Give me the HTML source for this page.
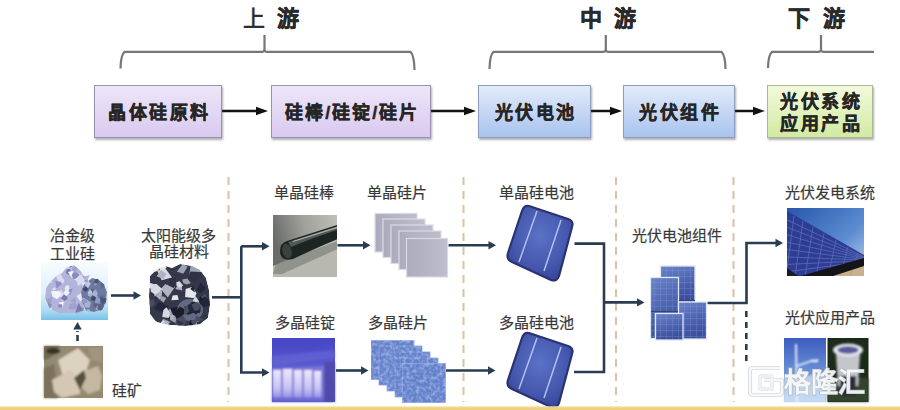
<!DOCTYPE html>
<html lang="zh-CN">
<head>
<meta charset="utf-8">
<style>
html,body{margin:0;padding:0;background:#fff;}
body{width:900px;height:410px;position:relative;overflow:hidden;font-family:"Liberation Sans",sans-serif;color:#222;}
.t{position:absolute;white-space:nowrap;line-height:1;}
.h{font-size:22px;font-weight:bold;color:#2a2a2a;-webkit-text-stroke:0.5px #2a2a2a;}
.box{position:absolute;box-sizing:border-box;border:1px solid #9a92ac;box-shadow:1px 2px 2px rgba(80,80,90,0.45);
  font-size:18px;font-weight:bold;color:#262626;-webkit-text-stroke:0.45px #262626;display:flex;align-items:center;justify-content:center;letter-spacing:2.5px;padding:0 0 2px 2.5px;}
.pur{background:linear-gradient(#ede6f8,#d9c9f0);}
.blu{background:linear-gradient(#e2ebfa,#a9c3ee);border-color:#8c9cbc;}
.grn{background:linear-gradient(#f2fadc,#d2eaa2);border-color:#aab894;line-height:22px;text-align:center;}
.s{font-size:15px;color:#383838;font-weight:normal;-webkit-text-stroke:0.2px #383838;}
svg{position:absolute;left:0;top:0;}
</style>
</head>
<body>
<!-- headings -->
<div class="t h" style="left:243px;top:8px;font-weight:normal;-webkit-text-stroke:0.6px #2a2a2a;">上</div>
<div class="t h" style="left:277px;top:8px;">游</div>
<div class="t h" style="left:580px;top:8px;">中</div>
<div class="t h" style="left:614px;top:8px;">游</div>
<div class="t h" style="left:788px;top:8px;">下</div>
<div class="t h" style="left:823px;top:8px;">游</div>

<svg width="900" height="410" viewBox="0 0 900 410">
  <g fill="none" stroke="#767676" stroke-width="2.2">
    <path d="M120.5 68.5 Q120.8 54.8 124.5 51.8 H262.5 Q264.5 51.8 264.5 48.8 V35 V48.8 Q264.5 51.8 266.5 51.8 H410.5 Q414.2 54.8 414.5 70"/>
    <path d="M489.5 69 Q489.8 54.8 493.5 51.8 H603.8 Q605.8 51.8 605.8 48.8 V35 V48.8 Q605.8 51.8 607.8 51.8 H721.5 Q725.2 54.8 725.5 69"/>
    <path d="M768 68 Q768.3 54.8 772 51.8 H819 Q821 51.8 821 48.8 V35 V48.8 Q821 51.8 823 51.8 H874"/>
  </g>
  <!-- top arrows -->
  <g stroke="#111" stroke-width="2.5" fill="#111">
    <line x1="222" y1="111" x2="258" y2="111"/>
    <path d="M268 111 L256 106.8 L256 115.2 Z" stroke="none"/>
    <line x1="431" y1="111" x2="470" y2="111"/>
    <path d="M476 111 L464 106.8 L464 115.2 Z" stroke="none"/>
    <line x1="591" y1="111" x2="617" y2="111"/>
    <path d="M622 111 L610 106.8 L610 115.2 Z" stroke="none"/>
    <line x1="735" y1="111" x2="759" y2="111"/>
    <path d="M765 111 L753 106.8 L753 115.2 Z" stroke="none"/>
  </g>
</svg>

<div class="box pur" style="left:94px;top:85px;width:128px;height:53px;">晶体硅原料</div>
<div class="box pur" style="left:271px;top:85px;width:160px;height:53px;letter-spacing:2px;">硅棒/硅锭/硅片</div>
<div class="box blu" style="left:478px;top:85px;width:113px;height:53px;">光伏电池</div>
<div class="box blu" style="left:623px;top:85px;width:111.5px;height:53px;">光伏组件</div>
<div class="box grn" style="left:767px;top:85px;width:105.5px;height:53px;padding:3px 0 0 2.5px;">光伏系统<br>应用产品</div>

<svg width="900" height="410" viewBox="0 0 900 410">
  <!-- orange dashed separators -->
  <g stroke="#dcc2a2" stroke-width="2" stroke-dasharray="8 6" fill="none">
    <line x1="228.5" y1="177" x2="228.5" y2="402"/>
    <line x1="463.5" y1="177" x2="463.5" y2="402"/>
    <line x1="616" y1="177" x2="616" y2="402"/>
    <line x1="733.5" y1="177" x2="733.5" y2="402"/>
  </g>
  <!-- connectors -->
  <g stroke="#283c52" stroke-width="2.6" fill="none">
    <polyline points="111,295.5 134,295.5"/>
    <polyline points="212,297.3 241.3,297.3"/>
    <polyline points="241.3,246.3 263,246.3"/>
    <polyline points="241.3,246.3 241.3,372.5 263,372.5"/>
    <polyline points="337.5,245.3 364,245.3"/>
    <polyline points="448.5,245.3 490,245.3"/>
    <polyline points="336,370.5 362,370.5"/>
    <polyline points="446,370.5 489,370.5"/>
    <polyline points="574.5,243.6 604,243.6 604,372 574,372"/>
    <polyline points="604,302.4 638,302.4"/>
    <polyline points="707.5,303 746.5,303 746.5,243 777,243"/>
    <line x1="746.3" y1="311" x2="746.3" y2="362" stroke-dasharray="6 5" stroke-width="2.6"/>
    <line x1="77.5" y1="341" x2="77.5" y2="331" stroke-dasharray="6 3" stroke-width="2.6"/>
  </g>
  <g fill="#283c52">
    <path d="M141 295.5 L133.5 291.3 L133.5 299.7Z"/>
    <path d="M269.5 246.3 L262.0 242.10000000000002 L262.0 250.5Z"/>
    <path d="M269.5 372.5 L262.0 368.3 L262.0 376.7Z"/>
    <path d="M370.5 245.3 L363.0 241.10000000000002 L363.0 249.5Z"/>
    <path d="M496 245.3 L488.5 241.10000000000002 L488.5 249.5Z"/>
    <path d="M368.5 370.5 L361.0 366.3 L361.0 374.7Z"/>
    <path d="M495.5 370.5 L488.0 366.3 L488.0 374.7Z"/>
    <path d="M644.5 302.4 L637.0 298.2 L637.0 306.59999999999997Z"/>
    <path d="M783 243 L775.5 238.8 L775.5 247.2Z"/>
    <path d="M77.5 322 L73.3 329.5 L81.7 329.5Z"/>
  </g>
</svg>

<div class="t s" style="left:50px;top:227px;line-height:17.5px;text-align:center;">冶金级<br>工业硅</div>
<div class="t s" style="left:141px;top:228px;line-height:16px;text-align:center;">太阳能级多<br>晶硅材料</div>
<div class="t s" style="left:112px;top:383px;">硅矿</div>
<div class="t s" style="left:274px;top:185px;">单晶硅棒</div>
<div class="t s" style="left:367px;top:185px;">单晶硅片</div>
<div class="t s" style="left:499px;top:185px;">单晶硅电池</div>
<div class="t s" style="left:632px;top:228px;">光伏电池组件</div>
<div class="t s" style="left:785px;top:185px;">光伏发电系统</div>
<div class="t s" style="left:275px;top:315px;">多晶硅锭</div>
<div class="t s" style="left:368px;top:315px;">多晶硅片</div>
<div class="t s" style="left:499px;top:315px;">多晶硅电池</div>
<div class="t s" style="left:785px;top:310px;">光伏应用产品</div>

<svg width="900" height="410" viewBox="0 0 900 410">
  <defs>
    <linearGradient id="gSi" x1="0" y1="0" x2="0" y2="1">
      <stop offset="0" stop-color="#f8fcfe"/><stop offset="0.55" stop-color="#dcf0f9"/><stop offset="0.85" stop-color="#a8daf2"/><stop offset="1" stop-color="#78c0e8"/>
    </linearGradient>
    <linearGradient id="gRod" x1="0" y1="0.3" x2="1" y2="0">
      <stop offset="0" stop-color="#6a6c68"/><stop offset="0.5" stop-color="#a2a29c"/><stop offset="1" stop-color="#c0c0b8"/>
    </linearGradient>
    <linearGradient id="gRodBar" x1="0" y1="0" x2="0" y2="1">
      <stop offset="0" stop-color="#9aa29c"/><stop offset="0.35" stop-color="#3a4240"/><stop offset="1" stop-color="#141a18"/>
    </linearGradient>
    <linearGradient id="gIngot" x1="0" y1="0" x2="0" y2="1">
      <stop offset="0" stop-color="#4444c6"/><stop offset="0.45" stop-color="#5a5ad0"/><stop offset="1" stop-color="#5050b8"/>
    </linearGradient>
    <linearGradient id="gSky" x1="0" y1="0" x2="1" y2="1">
      <stop offset="0" stop-color="#2856ac"/><stop offset="0.6" stop-color="#5c8cd0"/><stop offset="1" stop-color="#b6d4ee"/>
    </linearGradient>
    <linearGradient id="gSky2" x1="0" y1="0" x2="0" y2="1">
      <stop offset="0" stop-color="#3c5cc0"/><stop offset="0.6" stop-color="#7098d8"/><stop offset="1" stop-color="#b8d4f0"/>
    </linearGradient>
    <linearGradient id="gCell" x1="0" y1="0" x2="1" y2="1">
      <stop offset="0" stop-color="#3a4ea8"/><stop offset="0.5" stop-color="#4a64b8"/><stop offset="1" stop-color="#2e3c8c"/>
    </linearGradient>
    <radialGradient id="gCell2" cx="0.5" cy="0.4" r="0.6">
      <stop offset="0" stop-color="#5a72c6"/><stop offset="0.7" stop-color="#4558ae"/><stop offset="1" stop-color="#38489c"/>
    </radialGradient>
    <linearGradient id="gWaf" x1="0" y1="0" x2="1" y2="0">
      <stop offset="0" stop-color="#acacbe"/><stop offset="1" stop-color="#bebecb"/>
    </linearGradient>
    <filter id="soft3" x="-10%" y="-10%" width="120%" height="120%"><feGaussianBlur stdDeviation="0.55"/></filter>
    <linearGradient id="gMod" x1="0" y1="0" x2="0.3" y2="1">
      <stop offset="0" stop-color="#6c84c8"/><stop offset="0.5" stop-color="#5068b4"/><stop offset="1" stop-color="#3c4e9c"/>
    </linearGradient>
    <pattern id="pGrid2" width="6" height="6" patternUnits="userSpaceOnUse">
      <path d="M0 0.5 H6 M0.5 0 V6" stroke="#8aa0d8" stroke-width="0.6" opacity="0.45"/>
    </pattern>
    <linearGradient id="gStrip" x1="0" y1="0" x2="0" y2="1">
      <stop offset="0" stop-color="#ecE8fc"/><stop offset="0.6" stop-color="#c8c4f2"/><stop offset="1" stop-color="#8a86e0"/>
    </linearGradient>
    <filter id="soft" x="-10%" y="-10%" width="120%" height="120%"><feGaussianBlur stdDeviation="1"/></filter>
    <filter id="soft2" x="-10%" y="-10%" width="120%" height="120%"><feGaussianBlur stdDeviation="1.2"/></filter>
    <filter id="mottle" x="0" y="0" width="100%" height="100%">
      <feTurbulence type="fractalNoise" baseFrequency="0.3" numOctaves="2" seed="3" result="n"/>
      <feColorMatrix in="n" type="matrix" values="0 0 0 0 0.56  0 0 0 0 0.66  0 0 0 0 0.90  0 0 0 1.1 -0.45" result="spots"/>
      <feComposite in="spots" in2="SourceGraphic" operator="atop"/>
    </filter>
    <pattern id="pMulti" width="6" height="6" patternUnits="userSpaceOnUse">
      <rect width="6" height="6" fill="#5f7fcf"/>
      <circle cx="1.5" cy="1.5" r="1.2" fill="#809ce0"/>
      <circle cx="4.5" cy="4" r="1" fill="#4a68bc"/>
    </pattern>
    <pattern id="pGrid" width="6" height="6" patternUnits="userSpaceOnUse">
      <rect width="6" height="6" fill="#5670b6"/>
      <path d="M0 0.5 H6 M0.5 0 V6" stroke="#6a82c2" stroke-width="0.7"/>
    </pattern>
  </defs>

  <!-- metallurgical silicon -->
  <rect x="41" y="262" width="67" height="58" fill="url(#gSi)"/>
  <clipPath id="cSiL"><path d="M45 298 L46 288 L50 282 L56 276 L62 273 L66 268 L74 265 L80 270 L84 276 L90 275 L86 284 L82 296 L84 311 L78 314 L70 313 L58 313 L50 309Z"/></clipPath>
  <clipPath id="cSiR"><path d="M84 284 L92 278 L98 279 L104 284 L107 292 L106 302 L102 310 L94 312 L86 311 L82 302 L81 292Z"/></clipPath>
  <g filter="url(#soft3)">
  <g clip-path="url(#cSiL)">
  <path d="M45 298 L46 288 L50 282 L56 276 L62 273 L66 268 L74 265 L80 270 L84 276 L90 275 L86 284 L82 296 L84 311 L78 314 L70 313 L58 313 L50 309Z" fill="#b2b4da"/>
  <polygon points="51.8,292.2 53.3,288.7 57.6,289.7 58.6,293.1 54.7,294.6" fill="#8a8cb8"/>
  <polygon points="76.7,307.1 73.4,309.4 68.5,309.1 69.9,304.1 74.2,303.6" fill="#a0a2cc"/>
  <polygon points="63.9,301.8 62.7,308.1 58.7,302.6" fill="#f4f2fa"/>
  <polygon points="72.8,288.6 70.0,295.6 66.2,289.9" fill="#9090c0"/>
  <polygon points="75.3,280.6 70.7,276.9 73.6,272.9 79.7,273.5 79.8,277.8" fill="#dcdcf0"/>
  <polygon points="56.2,293.4 61.3,289.4 64.0,293.7 61.1,297.7" fill="#dcdcf0"/>
  <polygon points="89.6,280.0 87.6,285.5 83.9,280.6" fill="#7a7aae"/>
  <polygon points="61.3,300.8 62.5,296.7 67.1,298.9 64.6,302.7" fill="#c8c8e6"/>
  <polygon points="64.5,301.3 60.9,298.2 63.8,294.7 67.1,295.5 67.3,299.2" fill="#7a7aae"/>
  <polygon points="62.9,283.1 56.4,288.4 55.4,280.6" fill="#9090c0"/>
  <polygon points="45.7,282.1 49.8,277.7 52.5,283.0" fill="#dcdcf0"/>
  <polygon points="47.6,314.4 43.9,313.5 44.0,309.8 47.0,307.4 49.1,310.7" fill="#a0a2cc"/>
  <polygon points="73.9,267.8 67.1,270.5 67.3,263.8" fill="#f4f2fa"/>
  <polygon points="76.5,295.9 82.2,292.5 83.7,298.0 80.3,301.5" fill="#e8e8f6"/>
  <polygon points="80.6,308.8 84.9,305.7 86.0,310.6" fill="#9090c0"/>
  <polygon points="61.0,274.2 63.1,280.1 58.3,281.6 55.8,275.6" fill="#dcdcf0"/>
  <polygon points="66.0,296.3 63.5,292.9 65.9,288.7 70.0,292.8" fill="#f4f2fa"/>
  <polygon points="85.0,306.3 86.1,304.0 88.6,304.8 89.6,307.4 86.4,307.8" fill="#9090c0"/>
  <polygon points="70.0,263.8 73.2,267.6 70.7,271.3 66.4,270.3 65.9,266.3" fill="#c8c8e6"/>
  <polygon points="76.6,271.6 71.6,271.8 72.0,267.4 77.7,266.3" fill="#a0a2cc"/>
  <polygon points="75.4,296.9 75.7,303.4 69.8,301.0" fill="#a0a2cc"/>
  <polygon points="56.3,267.9 49.3,270.3 51.2,263.8" fill="#8a8cb8"/>
  <polygon points="43.7,300.0 52.3,296.8 50.7,306.0" fill="#a0a2cc"/>
  <polygon points="52.6,296.7 51.0,290.9 58.3,290.6 61.5,294.8 57.0,299.2" fill="#f4f2fa"/>
  <polygon points="80.8,273.3 82.5,270.2 85.0,271.1 85.3,274.3 82.9,276.0" fill="#c8c8e6"/>
  <polygon points="70.9,304.5 74.5,302.3 77.6,305.9 75.3,309.5 70.3,308.3" fill="#a0a2cc"/>
  <polygon points="71.5,274.1 75.4,272.0 79.5,274.3 77.3,278.4 73.1,279.2" fill="#8a8cb8"/>
  <polygon points="83.7,279.7 80.2,279.7 80.3,275.9 83.4,276.0" fill="#9090c0"/>
  <polygon points="45.6,306.0 48.3,302.6 51.7,304.5 50.0,308.6" fill="#8a8cb8"/>
  <polygon points="65.8,272.9 66.7,269.3 70.1,268.7 71.1,272.2 68.8,274.9" fill="#7a7aae"/>
  <polygon points="47.2,309.7 49.4,306.7 52.9,309.1 51.3,313.0 47.8,312.6" fill="#a0a2cc"/>
  <polygon points="48.5,307.8 52.1,308.5 51.9,312.2 48.0,311.0" fill="#f4f2fa"/>
  <polygon points="63.7,279.2 57.7,280.6 59.7,275.4" fill="#dcdcf0"/>
  <polygon points="57.8,304.4 61.9,304.2 62.6,307.2 58.7,307.8" fill="#8a8cb8"/>
  <polygon points="67.9,272.1 73.5,270.7 71.2,276.9" fill="#f4f2fa"/>
  <polygon points="84.4,287.7 81.4,283.7 84.7,281.4 88.5,281.7 88.1,286.9" fill="#e8e8f6"/>
  <polygon points="68.3,291.1 64.5,288.7 65.7,285.7 68.3,285.1 69.6,287.9" fill="#e8e8f6"/>
  <polygon points="65.5,291.7 65.2,288.2 67.8,286.9 69.0,290.6" fill="#e8e8f6"/>
  <polygon points="82.4,306.7 86.1,303.9 86.7,309.4" fill="#a0a2cc"/>
  <polygon points="54.1,287.2 56.8,289.1 53.9,291.1 51.7,288.9" fill="#dcdcf0"/>
  <polygon points="77.0,277.7 80.3,274.9 83.1,278.7 78.8,281.3" fill="#dcdcf0"/>
  <polygon points="64.4,281.6 62.3,283.9 60.5,281.5 61.0,279.5 63.8,279.3" fill="#dcdcf0"/>
  <polygon points="81.4,274.7 84.9,280.6 78.6,286.3 75.3,278.8" fill="#dcdcf0"/>
  <polygon points="72.7,266.4 69.4,268.0 69.7,263.5" fill="#7a7aae"/>
  <polygon points="75.2,312.8 78.5,302.8 83.4,310.6" fill="#7a7aae"/>
  </g>
  <g clip-path="url(#cSiR)">
  <path d="M84 284 L92 278 L98 279 L104 284 L107 292 L106 302 L102 310 L94 312 L86 311 L82 302 L81 292Z" fill="#6c789e"/>
  <polygon points="97.1,302.0 97.8,305.6 95.1,307.4 92.8,305.4 94.1,301.8" fill="#5a6488"/>
  <polygon points="107.6,304.4 100.7,302.4 106.9,299.1" fill="#5a6488"/>
  <polygon points="85.1,298.2 84.5,300.3 82.0,300.7 82.6,297.6" fill="#a8b2d4"/>
  <polygon points="105.1,284.1 102.2,289.0 100.2,283.3" fill="#5a6488"/>
  <polygon points="102.3,294.9 104.2,298.4 103.2,303.2 99.4,302.2 98.7,297.5" fill="#5a6488"/>
  <polygon points="95.1,303.2 94.7,298.9 97.3,295.7 100.3,298.9 99.6,303.6" fill="#8e9ac2"/>
  <polygon points="86.4,299.3 90.9,302.5 89.3,308.0 84.9,307.3 83.8,303.1" fill="#a8b2d4"/>
  <polygon points="95.4,309.1 98.1,304.9 103.2,304.8 105.1,310.1 99.8,312.4" fill="#a8b2d4"/>
  <polygon points="84.0,282.1 86.7,279.2 90.2,282.2 86.5,285.1" fill="#4a5478"/>
  <polygon points="85.4,292.1 82.2,288.2 86.9,286.7" fill="#3e4868"/>
  <polygon points="90.5,297.0 87.8,295.6 87.8,291.7 91.4,290.7 92.9,294.6" fill="#a8b2d4"/>
  <polygon points="97.6,284.3 94.4,286.0 94.3,283.0" fill="#8e9ac2"/>
  <polygon points="93.5,288.7 94.9,290.3 93.3,291.8 91.7,290.9 90.9,289.2" fill="#5a6488"/>
  <polygon points="83.7,283.3 88.4,280.5 90.8,283.7 87.9,288.2" fill="#c0c8e2"/>
  <polygon points="97.1,309.1 98.3,304.2 103.1,303.3 104.9,307.7 101.8,312.4" fill="#5a6488"/>
  <polygon points="83.3,289.7 85.6,286.7 88.6,289.1 86.1,291.8" fill="#3e4868"/>
  <polygon points="81.4,301.3 83.5,298.9 86.4,299.1 87.5,302.4 84.1,303.2" fill="#8e9ac2"/>
  <polygon points="87.9,293.5 89.9,288.7 92.4,293.4" fill="#c0c8e2"/>
  <polygon points="107.7,298.3 102.4,304.8 100.0,297.7" fill="#4a5478"/>
  <polygon points="89.1,312.7 86.2,311.7 86.5,309.4 88.2,308.9 90.4,310.2" fill="#a8b2d4"/>
  <polygon points="96.0,293.0 94.0,292.4 94.6,289.3 97.3,290.5" fill="#8e9ac2"/>
  <polygon points="104.1,310.8 107.8,309.1 109.6,312.0 106.1,313.6" fill="#5a6488"/>
  <polygon points="96.5,297.4 91.8,294.4 94.2,290.0 97.8,292.8" fill="#a8b2d4"/>
  <polygon points="98.8,283.6 93.3,282.3 97.8,277.5" fill="#4a5478"/>
  <polygon points="91.7,296.6 94.3,296.0 96.0,298.2 94.6,301.3 91.0,300.0" fill="#3e4868"/>
  </g>
  </g>

  <!-- silica ore -->
  <rect x="44" y="346" width="59" height="52" fill="#948a72"/>
  <g filter="url(#soft)">
  <path d="M44 346 H60 Q56 354 50 358 L44 360Z" fill="#706850"/>
  <ellipse cx="53" cy="351" rx="7" ry="3" fill="#363026"/>
  <path d="M44 368 L54 364 L58 398 L44 398Z" fill="#7c725c"/>
  <path d="M58 360 L78 348 L90 360 L86 372 L70 380 L62 374Z" fill="#dcd2c0"/>
  <path d="M52 380 L70 370 L80 380 L80 394 L62 398 L54 392Z" fill="#d4c8b4"/>
  <path d="M82 372 L98 366 L102 376 L100 390 L88 394 L80 386Z" fill="#c6b8a0"/>
  <path d="M74 378 L84 370 L86 378 L80 390Z" fill="#5a503e"/>
  <path d="M88 348 L102 347 L102 362 L92 360Z" fill="#a09680"/>
  </g>

  <!-- solar grade poly chunks -->
  <clipPath id="cPoly"><path d="M150 276 L158 268 L166 266 L172 268 L180 264 L192 266 L200 270 L206 278 L209 290 L210 305 L208 318 L200 324 L186 326 L170 325 L156 322 L150 314 L149 296Z"/></clipPath>
  <g clip-path="url(#cPoly)"><g filter="url(#soft3)">
  <path d="M150 276 L158 268 L166 266 L172 268 L180 264 L192 266 L200 270 L206 278 L209 290 L210 305 L208 318 L200 324 L186 326 L170 325 L156 322 L150 314 L149 296Z" fill="#34384a"/>
  <ellipse cx="190" cy="310" rx="13" ry="11" fill="#646a84"/>
  <polygon points="163.9,303.3 163.2,308.8 159.9,312.6 154.6,310.7 157.0,303.3" fill="#2e3244"/>
  <polygon points="185.6,288.9 192.9,286.7 196.4,293.6 194.4,298.3 185.1,297.1" fill="#e6e8ee"/>
  <polygon points="190.3,289.0 193.5,285.1 194.9,292.5" fill="#22263a"/>
  <polygon points="155.3,299.4 150.3,290.4 160.1,289.2 161.5,296.3" fill="#2e3244"/>
  <polygon points="196.6,326.9 191.6,328.8 188.8,324.0 190.4,319.8 196.0,322.2" fill="#1a1e2c"/>
  <polygon points="165.1,268.1 172.0,277.4 161.7,280.3 157.4,271.1" fill="#d8dae2"/>
  <polygon points="182.5,290.6 175.3,288.9 178.1,284.9 181.5,285.3" fill="#b0b4c2"/>
  <polygon points="178.5,317.6 175.2,323.8 167.2,317.7 171.4,313.3" fill="#2e3244"/>
  <polygon points="200.5,304.7 198.9,300.3 201.2,295.3 205.0,297.3 206.0,305.0" fill="#1a1e2c"/>
  <polygon points="194.0,312.4 187.5,315.1 184.3,306.1 194.0,307.5" fill="#1a1e2c"/>
  <polygon points="176.2,323.5 169.9,319.7 171.7,312.0 179.4,316.9" fill="#9ea2b4"/>
  <polygon points="200.3,293.3 196.5,290.3 200.3,282.6 206.0,288.2" fill="#22263a"/>
  <polygon points="187.6,266.7 183.2,273.8 176.8,271.6 182.8,264.0" fill="#9ea2b4"/>
  <polygon points="152.9,268.3 155.9,266.3 159.8,267.3 158.5,270.4 155.3,271.7" fill="#e6e8ee"/>
  <polygon points="195.4,311.1 196.5,303.6 200.3,305.4 201.5,312.1" fill="#4a4e62"/>
  <polygon points="185.7,315.4 180.5,310.2 189.0,303.8 191.4,308.8" fill="#4a4e62"/>
  <polygon points="188.9,267.8 196.5,268.2 195.3,272.2 189.7,272.6" fill="#2e3244"/>
  <polygon points="170.6,322.0 166.6,325.4 160.7,323.1 163.2,318.8" fill="#9ea2b4"/>
  <polygon points="182.2,279.6 187.2,278.6 190.8,282.9 187.1,284.4 183.3,283.3" fill="#9ea2b4"/>
  <polygon points="168.4,263.7 164.2,269.4 160.4,260.5" fill="#c6c8d2"/>
  <polygon points="167.8,297.5 160.7,289.0 165.1,284.3 175.1,286.7" fill="#b0b4c2"/>
  <polygon points="154.6,294.7 156.3,291.3 162.1,290.5 161.7,297.2 159.8,299.7" fill="#b0b4c2"/>
  <polygon points="170.0,289.3 168.6,287.5 169.6,283.6 172.8,283.7 173.7,288.6" fill="#b0b4c2"/>
  <polygon points="166.8,267.6 161.0,271.3 159.0,268.2 161.8,262.7" fill="#e6e8ee"/>
  <polygon points="183.4,326.5 175.0,324.5 176.5,317.0 181.7,313.6 186.5,320.7" fill="#4a4e62"/>
  <polygon points="163.1,320.4 165.9,322.0 166.3,328.0 159.0,328.1 158.7,324.9" fill="#e6e8ee"/>
  <polygon points="195.6,329.1 190.6,321.1 197.9,318.8" fill="#4a4e62"/>
  <polygon points="196.3,314.4 192.0,311.7 194.8,305.8 200.2,309.1" fill="#1a1e2c"/>
  <polygon points="199.9,313.0 189.2,312.7 187.9,305.8 193.0,300.8 200.7,306.4" fill="#22263a"/>
  <polygon points="168.9,318.1 168.8,312.9 171.3,311.0 177.3,313.6 174.0,317.6" fill="#1a1e2c"/>
  <polygon points="204.0,272.9 199.4,271.4 200.0,267.4 206.3,266.8" fill="#d8dae2"/>
  <polygon points="204.2,300.1 200.8,296.7 205.2,293.4 206.5,297.7" fill="#4a4e62"/>
  <polygon points="176.7,320.0 184.3,322.7 178.2,326.9" fill="#2e3244"/>
  <polygon points="153.4,298.7 154.8,303.8 151.9,307.5 147.3,302.4" fill="#4a4e62"/>
  <polygon points="163.4,278.9 156.6,276.3 161.0,269.8 166.4,273.9" fill="#b0b4c2"/>
  <polygon points="159.9,296.5 163.7,296.5 166.3,298.1 163.6,302.6 160.6,300.6" fill="#9ea2b4"/>
  <polygon points="195.6,296.1 199.3,302.1 192.5,301.4" fill="#d8dae2"/>
  <polygon points="169.6,311.1 174.0,309.5 175.8,314.3 171.7,316.4" fill="#22263a"/>
  <polygon points="168.7,313.6 175.6,315.7 171.0,320.8" fill="#b0b4c2"/>
  <polygon points="201.4,266.1 195.0,271.4 190.2,266.1 196.4,260.7" fill="#4a4e62"/>
  <polygon points="159.1,301.9 168.7,306.4 165.2,312.7 154.4,308.3" fill="#22263a"/>
  <polygon points="167.4,321.0 168.8,323.9 164.1,328.2 159.7,325.6 161.8,323.1" fill="#b0b4c2"/>
  <polygon points="203.2,323.3 198.9,327.9 194.6,325.7 197.1,320.7" fill="#9ea2b4"/>
  <polygon points="158.8,295.3 154.2,296.4 154.1,291.6 158.5,291.8" fill="#9ea2b4"/>
  <polygon points="201.5,320.9 202.1,327.0 196.7,325.7 196.8,322.1" fill="#2e3244"/>
  <polygon points="149.3,283.0 152.7,283.4 150.9,288.4 147.6,287.3" fill="#e6e8ee"/>
  <polygon points="189.2,275.3 190.5,264.8 201.0,265.7 199.1,274.4" fill="#9ea2b4"/>
  <polygon points="187.9,277.2 190.6,271.5 202.2,272.3 199.1,279.3 194.0,282.6" fill="#2e3244"/>
  <polygon points="196.0,315.5 203.8,320.1 195.1,321.7" fill="#4a4e62"/>
  <polygon points="156.6,284.0 162.4,289.2 155.6,295.1 150.7,291.4 150.6,284.1" fill="#d8dae2"/>
  <polygon points="178.0,307.3 173.4,314.0 170.0,307.9" fill="#1a1e2c"/>
  <polygon points="191.3,304.4 196.2,302.7 200.7,304.6 198.9,310.1 194.4,310.8" fill="#4a4e62"/>
  <polygon points="178.8,299.8 171.4,300.3 172.6,295.5 177.4,295.1" fill="#e6e8ee"/>
  <polygon points="180.0,306.4 184.2,309.2 183.8,314.5 176.9,319.0 173.3,313.3" fill="#1a1e2c"/>
  <polygon points="203.1,307.5 199.8,302.7 204.4,296.6 208.8,299.4 212.2,304.9" fill="#22263a"/>
  <polygon points="167.7,317.2 167.3,311.5 170.2,308.5 173.0,315.2" fill="#9ea2b4"/>
  <polygon points="174.1,288.2 168.4,285.6 169.9,278.3 176.1,278.0" fill="#2e3244"/>
  <polygon points="156.5,320.9 158.6,324.3 156.2,327.8 153.6,326.8 153.8,321.2" fill="#e6e8ee"/>
  <polygon points="176.6,286.0 176.3,282.2 179.6,281.3 183.2,285.6 179.7,287.7" fill="#d8dae2"/>
  <polygon points="162.2,317.1 163.4,310.1 166.5,307.3 170.0,312.9 168.7,317.9" fill="#d8dae2"/>
  </g></g>

  <!-- mono rod -->
  <clipPath id="cRod"><rect x="273" y="215" width="64" height="62"/></clipPath>
  <g clip-path="url(#cRod)">
  <rect x="273" y="215" width="64" height="62" fill="url(#gRod)"/>
  <path d="M273 266 L340 238 L340 277 L273 277Z" fill="#b8b8b0"/>
  <path d="M276 264 L340 240 L340 248 L282 274 L273 274Z" fill="#707270" opacity="0.55"/>
  <path d="M287 241 Q312 233 340 224 L340 238 Q316 248 293 259 Q280 262 280 251 Q280 243 287 241Z" fill="#1e2422"/>
  <path d="M288 242 Q312 234 340 225.5 L340 229 Q314 237 291 247 Z" fill="#4e5854"/>
  <path d="M293 241.5 L340 226.5" stroke="#a6aea8" stroke-width="1.3"/>
  <ellipse cx="287" cy="251" rx="4.5" ry="7.5" fill="#3a423e" transform="rotate(-15 287 251)"/>
  </g>

  <!-- mono wafers -->
  <g fill="url(#gWaf)" stroke="#dadae6" stroke-width="1.2">
    <rect x="375" y="213.5" width="42" height="38.5"/>
    <rect x="383" y="219" width="42" height="38.5"/>
    <rect x="391" y="225" width="42" height="38.5"/>
    <rect x="399" y="231" width="42" height="38.5"/>
    <rect x="406.5" y="238.5" width="41" height="38.5"/>
  </g>

  <!-- mono cell -->
  <g>
  <path d="M529 206 L568 219 Q574 221 572 227 L559 276 Q557 282 551 280 L512 262 Q506 259 508 253 L522 211 Q524 205 529 206Z" fill="url(#gCell2)" stroke="#2a3272" stroke-width="2.2"/>
  <line x1="537" y1="211" x2="519" y2="262" stroke="#b0c0ee" stroke-width="1.5"/>
  <line x1="561" y1="220" x2="544" y2="271" stroke="#b0c0ee" stroke-width="1.5"/>
  </g>

  <!-- ingot -->
  <rect x="272" y="338" width="63" height="64" fill="url(#gIngot)"/>
  <g filter="url(#soft2)">
  <path d="M272 356 L335 350 L335 358 L272 366Z" fill="#6e6cd6" opacity="0.5"/>
  <path d="M272 368 L324 366 L324 402 L272 402Z" fill="#7a74d6"/>
  <g fill="url(#gStrip)">
    <rect x="273" y="370" width="8" height="30"/>
    <rect x="283" y="369" width="9" height="31"/>
    <rect x="294" y="370" width="8" height="30"/>
    <rect x="304" y="370" width="8" height="30"/>
    <rect x="314" y="371" width="7" height="29"/>
  </g>
  <rect x="324" y="362" width="11" height="40" fill="#5048a8" opacity="0.8"/>
  <rect x="272" y="397" width="52" height="5" fill="#5c5cd0" opacity="0.6"/>
  </g>

  <!-- multi wafers -->
  <g stroke="#86a0e0" stroke-width="0.8" filter="url(#mottle)">
    <rect x="371" y="340.5" width="43" height="39" fill="#6482cc"/>
    <rect x="379" y="346" width="43" height="39" fill="#6482cc"/>
    <rect x="387" y="352" width="43" height="39" fill="#6482cc"/>
    <rect x="395" y="358" width="43" height="39" fill="#6482cc"/>
    <rect x="402.5" y="363.5" width="43" height="39" fill="#6482cc"/>
  </g>

  <!-- multi cell -->
  <g>
  <path d="M529 333 L568 346 Q574 348 572 354 L559 403 Q557 409 551 407 L512 389 Q506 386 508 380 L522 338 Q524 332 529 333Z" fill="url(#gCell2)" stroke="#2a3272" stroke-width="2.2"/>
  <line x1="537" y1="338" x2="519" y2="389" stroke="#b0c0ee" stroke-width="1.5"/>
  <line x1="561" y1="347" x2="544" y2="398" stroke="#b0c0ee" stroke-width="1.5"/>
  </g>

  <!-- module -->
  <rect x="660.5" y="266" width="34.5" height="36" fill="url(#gMod)" stroke="#dfe6f6" stroke-width="1.3"/>
  <rect x="661.5" y="267" width="32.5" height="34" fill="url(#pGrid2)"/>
  <rect x="650.5" y="277.5" width="28" height="61" fill="url(#gMod)" stroke="#dfe6f6" stroke-width="1.3"/>
  <rect x="651.5" y="278.5" width="26" height="59" fill="url(#pGrid2)"/>
  <rect x="678.5" y="302" width="28" height="37" fill="url(#gMod)" stroke="#dfe6f6" stroke-width="1.3"/>
  <rect x="679.5" y="303" width="26" height="35" fill="url(#pGrid2)"/>
  <rect x="655.5" y="313.5" width="27.5" height="26.5" fill="url(#gMod)" stroke="#dfe6f6" stroke-width="1.3"/>
  <rect x="656.5" y="314.5" width="25.5" height="24.5" fill="url(#pGrid2)"/>
  <g stroke="#34447e" stroke-width="1.2">
    <line x1="651" y1="311.5" x2="678" y2="311.5"/>
    <line x1="679" y1="300.5" x2="695" y2="300.5"/>
  </g>

  <!-- PV system -->
  <clipPath id="cPV"><rect x="787" y="208" width="77" height="68"/></clipPath>
  <g clip-path="url(#cPV)">
  <rect x="787" y="208" width="77" height="68" fill="url(#gSky)"/>
  <path d="M820 276 L864 252 L864 276Z" fill="#c8b08c"/>
  <path d="M787 211 L864 255 L864 262 L800 277 L787 277Z" fill="#2e3d94"/>
  <g stroke="#8090d0" stroke-width="0.8" opacity="0.55">
    <line x1="787" y1="219.8" x2="864" y2="256.7"/>
    <line x1="787" y1="227.2" x2="864" y2="257.4"/>
    <line x1="787" y1="234.7" x2="864" y2="258.1"/>
    <line x1="787" y1="242.1" x2="864" y2="258.8"/>
    <line x1="787" y1="249.5" x2="864" y2="259.5"/>
    <line x1="787" y1="256.9" x2="864" y2="260.1"/>
    <line x1="787" y1="264.4" x2="864" y2="260.8"/>
    <line x1="787" y1="271.8" x2="864" y2="261.5"/>
    <line x1="794" y1="216.0" x2="786" y2="277"/>
    <line x1="803" y1="221.1" x2="795" y2="277"/>
    <line x1="813" y1="226.9" x2="805" y2="277"/>
    <line x1="824" y1="233.1" x2="816" y2="277"/>
    <line x1="836" y1="240.0" x2="828" y2="277"/>
    <line x1="848" y1="246.9" x2="840" y2="277"/>
    <line x1="858" y1="252.6" x2="850" y2="277"/>
  </g>
  <path d="M797 277 L864 258 L864 266 L830 277Z" fill="#141418"/>
  <path d="M787 268 L800 277 L787 277Z" fill="#1a1c24"/>
  </g>

  <!-- products -->
  <rect x="784" y="338" width="42" height="64" fill="url(#gSky2)"/>
  <g filter="url(#soft)">
  <path d="M784 378 Q796 372 808 376 Q818 372 826 376 L826 402 L784 402Z" fill="#c8dcf2" opacity="0.8"/>
  <line x1="796" y1="344" x2="797" y2="402" stroke="#eef4fc" stroke-width="1.8"/>
  <path d="M797 366 L814 360" stroke="#eef4fc" stroke-width="1.6"/>
  <path d="M810 362 L818 359 L818 362Z" fill="#ffffff"/>
  </g>
  <rect x="827.5" y="338" width="41" height="64" fill="#1c2a1a"/>
  <g filter="url(#soft)">
  <rect x="827.5" y="378" width="41" height="24" fill="#3a4a2e" opacity="0.8"/>
  <path d="M836 354 L860 354 L858 386 L838 386Z" fill="#c4c6cc"/>
  <rect x="840" y="376" width="16" height="20" fill="#2e2e34"/>
  <ellipse cx="848" cy="350" rx="15" ry="6.5" fill="#e6e6f0"/>
  <ellipse cx="848" cy="350" rx="10.5" ry="3.8" fill="#5a5a98"/>
  </g>
</svg>

<!-- watermark -->
<svg width="900" height="410" viewBox="0 0 900 410">
  <g fill="none" stroke="#c8ccd2" stroke-width="4.2" stroke-linejoin="round" opacity="0.7">
    <path d="M780 368 H753 Q750 368 750 371 V392 Q750 395 753 395 H779 Q782 395 782 392 V380 H764"/>
    <path d="M760 376 H772 V389 H760 Z" stroke-width="3"/>
  </g>
  <g fill="none" stroke="#f6f7f9" stroke-width="2.4" stroke-linejoin="round">
    <path d="M780 368 H753 Q750 368 750 371 V392 Q750 395 753 395 H779 Q782 395 782 392 V380 H764"/>
    <path d="M760 376 H772 V389 H760 Z" stroke-width="1.6"/>
  </g>
  <text x="784" y="392" font-family="Liberation Sans, sans-serif" font-size="27" font-weight="bold" fill="#f8f9fb" stroke="#aeb3ba" stroke-width="1.3" paint-order="stroke" opacity="0.95">格隆汇</text>
</svg>

<div style="position:absolute;left:0;top:406px;width:900px;height:4px;background:linear-gradient(rgba(250,236,180,0.6),#f2d484 40%,#eccf7c);"></div>

</body>
</html>
